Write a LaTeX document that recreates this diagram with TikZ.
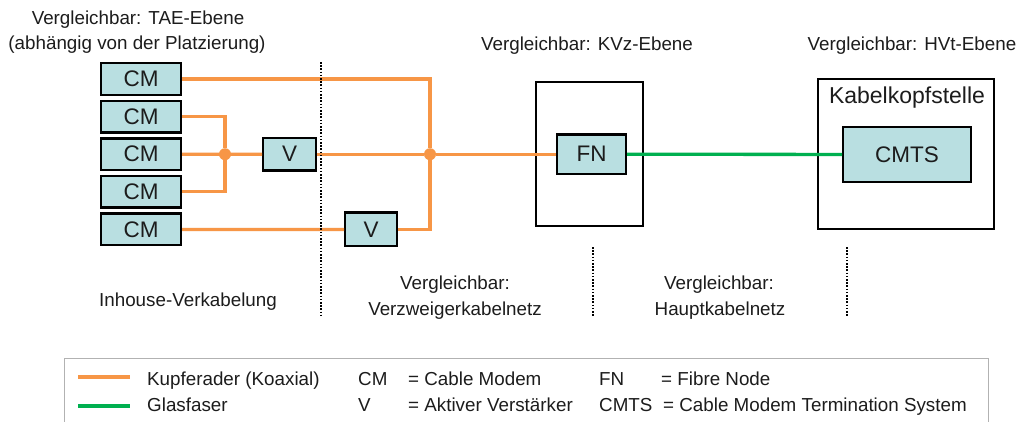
\documentclass[tikz,border=0pt]{standalone}
\usepackage{fontspec}
\setmainfont{Liberation Sans}
\usepackage{xcolor}
\usepackage{tikz}
\usetikzlibrary{positioning}
\definecolor{cuc}{HTML}{F79646}
\definecolor{gfc}{HTML}{00B050}
\definecolor{boxbg}{HTML}{B9DFE1}
\definecolor{txtc}{HTML}{1C1C1C}
\tikzset{
  cu/.style={line width=3.3pt,cuc},
  gf/.style={line width=3.3pt,gfc},
  box/.style={draw=black,line width=2.4pt,fill=boxbg,inner sep=0pt,text=txtc,font=\fontsize{22.5}{26}\selectfont},
  cmb/.style={box,minimum width=79.6pt,minimum height=31.6pt},
  hull/.style={draw=black,line width=2pt,inner sep=0pt},
  jn/.style={circle,fill=cuc,minimum size=12pt,inner sep=0pt},
  lbl/.style={anchor=base,inner sep=0pt,text=txtc,font=\fontsize{18.8}{25}\selectfont},
  lgd/.style={lbl,anchor=base west},
  dsep/.style={line width=2pt,dash pattern=on 1.6pt off 1.6pt}
}

\begin{document}
\begin{tikzpicture}[x=1pt,y=-1pt]
\path[use as bounding box,fill=white] (0,0) rectangle (1019,421);
\node[hull,minimum width=107pt,minimum height=144pt] (kvz) at (589.5,154) {};
\node[hull,minimum width=176pt,minimum height=150pt] (kks) at (906,154) {};
\node[cmb] (cm1) at (141,79) {CM};
\node[cmb,below=3.6pt of cm1] (cm2) {CM};
\node[cmb,below=3.6pt of cm2] (cm3) {CM};
\node[cmb,below=3.6pt of cm3] (cm4) {CM};
\node[cmb,below=3.6pt of cm4] (cm5) {CM};
\node[box,minimum width=52.6pt,minimum height=32.6pt] (v1) at (289.5,154.2) {V};
\node[box,minimum width=51.6pt,minimum height=33.6pt] (v2) at (371,229.4) {V};
\node[box,minimum width=68.6pt,minimum height=39.6pt] (fn) at (591.5,154.2) {FN};
\node[box,minimum width=127.6pt,minimum height=54.6pt] (cmts) at (907,154.5) {CMTS};
\node[jn] (j1) at (225,154.2) {}; \node[jn] (j2) at (430,154.2) {};

\draw[cu] (cm2.east) -| (j1) |- (cm4.east);
\draw[cu] (cm3) -- (v1); \draw[cu] (v1) -- (j2); \draw[cu] (j2) -- (fn);
\draw[cu] (cm1.east) -| (j2) |- (v2.east);
\draw[cu] (cm5) -- (v2);
\draw[gf] (fn) -- (cmts);

\draw[dsep] (321,62) -- (321,316);
\draw[dsep] (593,247) -- (593,316);
\draw[dsep] (847,247) -- (847,316);

\node[lbl] (tae) at (138,24) {Vergleichbar: TAE-Ebene};
\node[lbl] (plz) at (137,49) {(abhängig von der Platzierung)};
\node[lbl] (kvzt) at (587,50) {Vergleichbar: KVz-Ebene};
\node[lbl] (hvt) at (912,50) {Vergleichbar: HVt-Ebene};
\node[lbl,font=\fontsize{23}{26}\selectfont] (kkst) at (907,103) {Kabelkopfstelle};
\node[lbl] (inh) at (188,306) {Inhouse-Verkabelung};
\node[lbl] (vz1) at (455,289) {Vergleichbar:}; \node[lbl] (vz2) at (455,315) {Verzweigerkabelnetz};
\node[lbl] (hk1) at (719,289) {Vergleichbar:}; \node[lbl] (hk2) at (720,315) {Hauptkabelnetz};

\draw[gray!60,line width=1pt] (64,430) -- (64,358) -- (988,358) -- (988,430);
\draw[cu] (78,377) -- (130,377); \draw[gf] (78,406) -- (130,406);
\node[lgd] (lk) at (147,385) {Kupferader (Koaxial)}; \node[lgd] (lg) at (147,411) {Glasfaser};
\node[lgd] (lcm) at (358,385) {CM}; \node[lgd] (lv) at (358,411) {V};
\node[lgd] (lcmx) at (408,385) {= Cable Modem}; \node[lgd] (lvx) at (408,411) {= Aktiver Verstärker};
\node[lgd] (lfn) at (599,385) {FN}; \node[lgd] (lcmts) at (599,411) {CMTS};
\node[lgd] (lfnx) at (661,385) {= Fibre Node}; \node[lgd] (lcmtsx) at (663,411) {= Cable Modem Termination System};
\end{tikzpicture}
\end{document}
